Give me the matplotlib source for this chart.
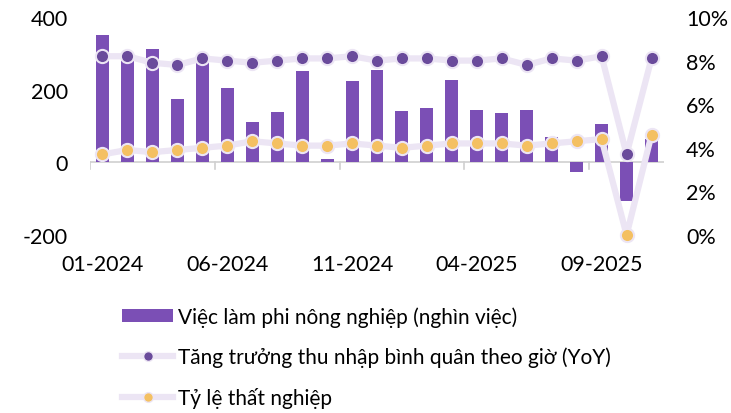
import matplotlib
matplotlib.use("Agg")
import matplotlib.pyplot as plt
import numpy as np
from matplotlib.lines import Line2D
from matplotlib.patches import Patch

plt.rcParams["font.family"] = ["Lato", "DejaVu Sans"]
plt.rcParams["axes.unicode_minus"] = False

# tháng từ 01-2024 đến 11-2025
months = ["01-2024", "02-2024", "03-2024", "04-2024", "05-2024", "06-2024",
          "07-2024", "08-2024", "09-2024", "10-2024", "11-2024", "12-2024",
          "01-2025", "02-2025", "03-2025", "04-2025", "05-2025", "06-2025",
          "07-2025", "08-2025", "09-2025", "10-2025", "11-2025"]

# việc làm phi nông nghiệp (nghìn việc)
payrolls = [351, 280, 313, 173, 285, 205, 112, 139, 252, 10, 225, 254,
            141, 150, 227, 145, 137, 145, 71, -27, 106, -106, 64]

# tăng trưởng thu nhập bình quân theo giờ (%)
earnings = [8.2, 8.2, 7.9, 7.8, 8.1, 8.0, 7.9, 8.0, 8.1, 8.1, 8.2, 8.0,
            8.1, 8.1, 8.0, 8.0, 8.1, 7.8, 8.1, 8.0, 8.2, 3.7, 8.1]

# tỷ lệ thất nghiệp (%)
unemployment = [3.7, 3.9, 3.8, 3.9, 4.0, 4.1, 4.3, 4.2, 4.1, 4.1, 4.2, 4.1,
                4.0, 4.1, 4.2, 4.2, 4.2, 4.1, 4.2, 4.3, 4.4, 0.0, 4.6]

BAR = "#7B4FB5"
DOT_PURPLE = "#6A4B9B"
DOT_ORANGE = "#F4C062"
LINE = "#ECE5F4"

x = np.arange(len(months))

fig = plt.figure(figsize=(7.31, 4.14), dpi=100)
ax = fig.add_axes([90 / 731, 1 - 236 / 414, (664 - 90) / 731, (236 - 18) / 414])
ax2 = ax.twinx()

ax.bar(x, payrolls, width=0.52, color=BAR, zorder=2)
ax.axhline(0, color="#D0D0D0", linewidth=1.2, zorder=1)
# vạch nhỏ dưới trục 0 tại ranh giới nhóm
for b in np.arange(-0.5, len(months), 5):
    ax.plot([b, b], [0, -19], color="#D0D0D0", linewidth=1.2, zorder=1)

ax.set_xlim(-0.5, len(months) - 0.5)
ax.set_ylim(-200, 400)
ax.set_yticks([-200, 0, 200, 400])
ax.set_xticks(x[::5])
ax.set_xticklabels(months[::5])
ax.tick_params(axis="x", length=0, pad=14, labelsize=15.5)
ax.tick_params(axis="y", length=0, pad=16, labelsize=15.5)

for s in ax.spines.values():
    s.set_visible(False)
for s in ax2.spines.values():
    s.set_visible(False)

line_kw = dict(color=LINE, linewidth=4.5, marker="o", markersize=9.5,
               markeredgecolor=LINE, markeredgewidth=1.5, clip_on=False,
               solid_capstyle="round")
ax2.plot(x, earnings, markerfacecolor=DOT_PURPLE, zorder=3, **line_kw)
ax2.plot(x, unemployment, markerfacecolor=DOT_ORANGE, zorder=4, **line_kw)
ax2.set_ylim(0, 10)
ax2.set_yticks(range(0, 11, 2))
ax2.set_yticklabels([f"{v}%" for v in range(0, 11, 2)])
ax2.tick_params(axis="y", length=0, pad=16, labelsize=15.5)

handles = [
    Patch(facecolor=BAR, edgecolor="none"),
    Line2D([], [], color=LINE, linewidth=4.5, marker="o", markersize=7,
           markerfacecolor=DOT_PURPLE, markeredgecolor=LINE),
    Line2D([], [], color=LINE, linewidth=4.5, marker="o", markersize=7,
           markerfacecolor=DOT_ORANGE, markeredgecolor=LINE),
]
labels = ["Việc làm phi nông nghiệp (nghìn việc)",
          "Tăng trưởng thu nhập bình quân theo giờ (YoY)",
          "Tỷ lệ thất nghiệp"]
fig.legend(handles, labels, loc="upper left", bbox_to_anchor=(114 / 731, 1 - 299 / 414),
           frameon=False, fontsize=15, handlelength=2.45, handleheight=0.6,
           handletextpad=0.2, labelspacing=0.95, borderaxespad=0)

fig.savefig("out.png", dpi=100)
